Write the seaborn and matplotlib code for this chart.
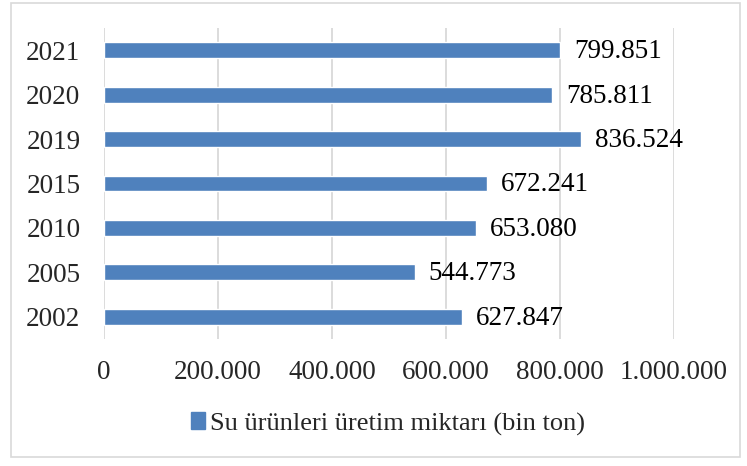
import matplotlib
matplotlib.use("Agg")
import matplotlib.pyplot as plt
import seaborn as sns
import pandas as pd
from matplotlib.patches import Rectangle, Patch

years = ["2021", "2020", "2019", "2015", "2010", "2005", "2002"]
values = [799851, 785811, 836524, 672241, 653080, 544773, 627847]
labels = ["799.851", "785.811", "836.524", "672.241", "653.080", "544.773", "627.847"]
series_name = "Su ürünleri üretim miktarı (bin ton)"
xticks = [0, 200000, 400000, 600000, 800000, 1000000]
xtick_labels = ["0", "200.000", "400.000", "600.000", "800.000", "1.000.000"]

sns.set_style("white")
plt.rcParams["font.family"] = ["Liberation Serif", "DejaVu Serif"]

color = "#4f81bd"
fs = 19.5
df = pd.DataFrame({"year": years, "value": values})

fig = plt.figure(figsize=(7.47, 4.66), dpi=100)
ax = fig.add_axes([104/747, 1-339/466, (674-104)/747, (339-28)/466])

sns.barplot(data=df, y="year", x="value", orient="h", color=color,
            width=0.36, ax=ax, saturation=1)

for i, (v, lab) in enumerate(zip(values, labels)):
    ax.annotate(lab, xy=(v, i), xytext=(10, -1), textcoords="offset points",
                va="center", ha="left", fontsize=fs, color="#000000")

ax.set_xlim(0, 1000000)
ax.set_xticks(xticks)
ax.set_xticklabels(xtick_labels, fontsize=fs)
ax.tick_params(axis="y", labelsize=fs, length=0, pad=17)
ax.tick_params(axis="x", length=0, pad=15)
ax.set_xlabel("")
ax.set_ylabel("")
ax.xaxis.grid(True, color="#d9d9d9", linewidth=1.3)
ax.set_axisbelow(True)
for s in ax.spines.values():
    s.set_visible(False)

fig.legend(handles=[Patch(facecolor=color, edgecolor=color)], labels=[series_name],
           loc="center", bbox_to_anchor=(388/747, 1-424/466), frameon=False,
           fontsize=19, handlelength=0.55, handleheight=0.6, handletextpad=0.2)

fig.patches.append(Rectangle((11/747, 1-457/466), (740-11)/747, (457-3)/466,
                             transform=fig.transFigure, fill=False,
                             edgecolor="#d9d9d9", linewidth=1.2))

fig.savefig("out.png", dpi=100)
